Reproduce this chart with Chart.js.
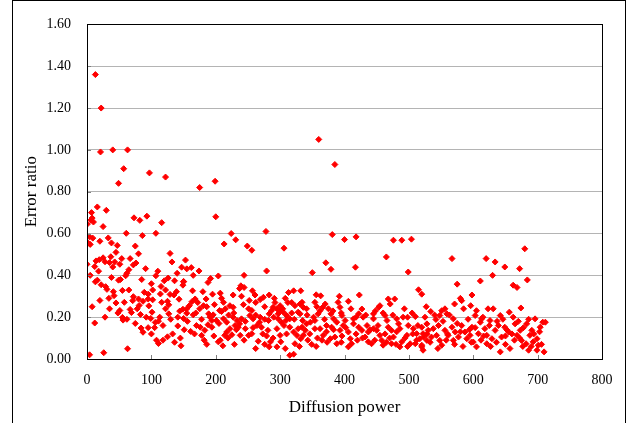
<!DOCTYPE html>
<html>
<head>
<meta charset="utf-8">
<script src="https://cdn.jsdelivr.net/npm/chart.js@4.4.1/dist/chart.umd.min.js"></script>
<style>
  html, body { margin: 0; padding: 0; background: #ffffff; }
  #wrap { width: 638px; height: 423px; position: relative; }
  canvas { display: block; }
</style>
</head>
<body>
<div id="wrap"><canvas id="c" width="638" height="423"></canvas></div>
<script>
// ---- Data ----
const xAxisTitle = "Diffusion power";
const yAxisTitle = "Error ratio";
const xTickValues = [0, 100, 200, 300, 400, 500, 600, 700, 800];
const yTickValues = [0, 0.2, 0.4, 0.6, 0.8, 1.0, 1.2, 1.4, 1.6];

const diffusionPower = [
  13,22,21,40,63,57,97,122,49,175,
  199,360,385,200,224,231,213,249,256,278,
  306,381,400,418,476,489,504,680,417,465,
  16,30,7,8,6,0.5,10,25,73,82,
  93,116,61,86,107,4,9,2,5,20,
  33,38,47,75,80,45,37,54,67,0,
  14,19,25,28,35,43,51,12,76,72,
  65,91,129,132,153,147,155,38,52,60,
  16,13,22,29,31,49,107,120,126,136,
  150,41,42,55,45,58,72,71,80,89,
  102,115,122,129,135,139,143,95,87,102,
  114,116,125,127,67,69,51,81,96,83,
  101,92,99,113,106,111,122,127,144,149,
  155,141,150,156,56,55,28,12,84,87,
  105,108,111,125,136,141,146,63,26,4,
  151,
  162,192,204,188,244,279,174,165,150,149,
  239,244,237,257,261,274,269,283,291,313,
  321,332,308,331,323,300,304,164,180,195,
  185,207,209,212,227,222,227,163,159,168,
  181,175,169,165,189,196,206,209,201,194,
  188,194,176,170,183,178,161,212,217,227,
  233,230,240,237,235,222,217,214,207,211,
  204,225,238,251,256,246,253,258,251,256,
  268,264,271,269,283,287,289,295,300,297,
  305,310,315,309,302,297,282,281,279,266,
  285,283,295,300,301,295,315,321,328,326,
  332,323,315,321,334,336,331,335,328,155,
  371,379,350,499,356,363,341,354,370,366,
  375,379,362,359,352,354,347,341,334,339,
  336,349,354,362,367,365,378,385,388,390,
  393,383,388,396,401,406,398,393,380,372,
  406,409,406,411,414,414,422,427,423,429,
  422,427,435,437,432,437,442,445,445,453,
  455,463,466,468,478,471,450,455,458,460,
  445,468,473,476,473,481,484,486,489,486,
  497,499,502,491,498,510,515,520,507,512,
  517,523,520,510,
  567,620,634,649,672,630,611,684,575,662,
  668,598,580,582,571,585,596,623,631,656,
  674,605,603,534,525,542,551,556,559,569,
  548,528,520,522,530,538,543,535,528,520,
  522,548,551,556,561,567,572,569,577,582,
  587,590,598,595,600,605,611,613,608,618,
  621,621,626,629,634,642,639,642,644,649,
  655,657,662,665,668,673,675,682,683,688,
  691,693,696,699,701,704,708,712,710,699,
  686,
  172,186,198,215,228,243,262,276,292,318,
  178,191,205,220,246,262,276,290,306,322,
  167,182,197,219,232,244,258,273,289,310,
  186,229,262,276,308,330,240,252,318,312,
  342,357,369,382,395,410,418,433,448,460,
  475,493,505,346,358,372,383,396,402,418,
  428,440,452,463,470,481,494,506,514,343,
  356,373,395,420,447,465,480,498,512,392,
  527,540,546,553,563,575,580,592,603,615,
  625,637,646,652,660,670,678,686,694,703,
  533,545,558,571,584,597,612,627,636,650,
  664,677,690,706,528,560,594,616,650,672,
  5,18,40,62,85,100,110,140,95,65,
  34,20,8,48,62,75,95,118,130,133,
  118,145,100,35,78
];

const errorRatio = [
  1.36,1.20,0.99,1.00,1.00,0.91,0.89,0.87,0.84,0.82,
  0.85,1.05,0.93,0.68,0.60,0.57,0.55,0.54,0.52,0.61,
  0.53,0.595,0.571,0.584,0.568,0.568,0.573,0.527,0.439,0.488,
  0.727,0.711,0.70,0.674,0.664,0.645,0.655,0.633,0.675,0.663,
  0.683,0.652,0.601,0.59,0.601,0.584,0.578,0.554,0.548,0.563,
  0.579,0.555,0.543,0.54,0.503,0.51,0.489,0.48,0.48,0.453,
  0.469,0.475,0.484,0.465,0.461,0.464,0.453,0.442,0.459,0.45,
  0.427,0.432,0.505,0.464,0.473,0.439,0.431,0.39,0.38,0.398,
  0.377,0.369,0.355,0.346,0.333,0.377,0.398,0.374,0.387,0.374,
  0.371,0.322,0.303,0.328,0.268,0.271,0.298,0.279,0.287,0.319,
  0.33,0.347,0.33,0.309,0.306,0.322,0.286,0.287,0.276,0.283,
  0.311,0.271,0.276,0.259,0.237,0.222,0.232,0.256,0.254,0.213,
  0.224,0.2,0.194,0.2,0.175,0.181,0.24,0.216,0.229,0.238,
  0.219,0.2,0.194,0.18,0.186,0.199,0.2,0.172,0.148,0.128,
  0.15,0.09,0.074,0.106,0.08,0.158,0.063,0.049,0.03,0.02,
  0.14,
  0.437,0.385,0.397,0.366,0.40,0.421,0.421,0.40,0.369,0.353,
  0.35,0.342,0.337,0.326,0.306,0.295,0.284,0.306,0.29,0.318,
  0.326,0.326,0.29,0.263,0.255,0.255,0.24,0.326,0.322,0.31,
  0.287,0.315,0.29,0.271,0.306,0.255,0.247,0.274,0.255,0.287,
  0.255,0.24,0.22,0.211,0.216,0.211,0.232,0.227,0.184,0.184,
  0.164,0.152,0.152,0.16,0.137,0.113,0.132,0.192,0.176,0.2,
  0.184,0.16,0.192,0.168,0.152,0.145,0.129,0.113,0.09,0.063,
  0.082,0.116,0.113,0.113,0.121,0.145,0.208,0.192,0.24,0.232,
  0.176,0.16,0.152,0.2,0.216,0.232,0.247,0.24,0.232,0.216,
  0.224,0.208,0.192,0.184,0.176,0.192,0.184,0.137,0.11,0.085,
  0.082,0.058,0.145,0.113,0.082,0.058,0.152,0.129,0.145,0.113,
  0.097,0.073,0.018,0.023,0.271,0.247,0.216,0.184,0.224,0.24,
  0.46,0.429,0.413,0.416,0.307,0.302,0.24,0.271,0.263,0.247,
  0.24,0.216,0.231,0.216,0.2,0.184,0.176,0.168,0.152,0.137,
  0.113,0.07,0.145,0.145,0.113,0.09,0.097,0.105,0.073,0.271,
  0.247,0.192,0.176,0.208,0.184,0.276,0.16,0.137,0.152,0.16,
  0.129,0.097,0.058,0.073,0.168,0.192,0.216,0.239,0.306,0.2,
  0.152,0.137,0.16,0.129,0.105,0.082,0.073,0.192,0.216,0.247,
  0.255,0.208,0.184,0.287,0.287,0.263,0.137,0.113,0.089,0.066,
  0.145,0.152,0.137,0.105,0.073,0.192,0.168,0.145,0.082,0.058,
  0.113,0.16,0.073,0.2,0.2,0.203,0.331,0.31,0.145,0.121,
  0.097,0.105,0.058,0.073,
  0.48,0.48,0.464,0.44,0.432,0.40,0.373,0.378,0.358,0.353,
  0.342,0.306,0.29,0.279,0.263,0.24,0.255,0.24,0.24,0.224,
  0.244,0.231,0.208,0.227,0.2,0.189,0.231,0.24,0.216,0.192,
  0.208,0.168,0.152,0.121,0.137,0.145,0.113,0.105,0.089,0.066,
  0.042,0.089,0.066,0.137,0.113,0.152,0.129,0.089,0.105,0.16,
  0.129,0.097,0.152,0.113,0.081,0.058,0.176,0.192,0.121,0.145,
  0.113,0.073,0.184,0.097,0.137,0.208,0.16,0.034,0.105,0.152,
  0.129,0.05,0.2,0.168,0.113,0.137,0.089,0.073,0.168,0.113,
  0.137,0.082,0.192,0.097,0.066,0.152,0.176,0.176,0.034,0.042,
  0.042,
  0.27,0.25,0.26,0.24,0.22,0.26,0.27,0.25,0.27,0.27,
  0.19,0.20,0.17,0.21,0.18,0.21,0.19,0.20,0.16,0.19,
  0.12,0.09,0.11,0.10,0.14,0.09,0.15,0.12,0.10,0.12,
  0.07,0.07,0.05,0.07,0.05,0.06,0.30,0.28,0.22,0.27,
  0.21,0.25,0.19,0.23,0.22,0.24,0.20,0.21,0.23,0.22,
  0.21,0.24,0.22,0.12,0.10,0.13,0.14,0.11,0.15,0.12,
  0.10,0.14,0.16,0.12,0.10,0.13,0.10,0.12,0.16,0.09,
  0.06,0.08,0.08,0.09,0.09,0.08,0.07,0.06,0.09,0.30,
  0.25,0.21,0.16,0.18,0.21,0.17,0.13,0.19,0.15,0.20,
  0.16,0.18,0.19,0.14,0.12,0.18,0.15,0.19,0.12,0.13,
  0.08,0.05,0.09,0.07,0.06,0.08,0.09,0.06,0.08,0.07,
  0.09,0.06,0.06,0.07,0.12,0.12,0.14,0.11,0.11,0.10,
  0.40,0.42,0.44,0.41,0.38,0.36,0.42,0.41,0.31,0.33,
  0.29,0.28,0.25,0.22,0.19,0.17,0.15,0.16,0.19,0.12,
  0.09,0.10,0.12,0.24,0.24
];

// ---- Build chart ----
const n = Math.min(diffusionPower.length, errorRatio.length);
const points = [];
for (let i = 0; i < n; i++) points.push({ x: diffusionPower[i], y: errorRatio[i] });

const FONT = "'Liberation Serif', 'Times New Roman', serif";

const framePlugin = {
  id: 'frame',
  beforeDraw(chart) {
    const ctx = chart.ctx;
    ctx.save();
    ctx.fillStyle = '#ffffff';
    ctx.fillRect(0, 0, chart.width, chart.height);
    ctx.restore();
  },
  afterDatasetsDraw(chart) {
    const ctx = chart.ctx;
    const a = chart.chartArea;
    const xs = chart.scales.x, ys = chart.scales.y;
    ctx.save();
    ctx.strokeStyle = '#7f7f7f';
    ctx.lineWidth = 1;
    xTickValues.forEach(v => {
      const px = Math.round(xs.getPixelForValue(v)) + 0.5;
      ctx.beginPath(); ctx.moveTo(px, a.bottom); ctx.lineTo(px, a.bottom - 4); ctx.stroke();
    });
    yTickValues.forEach(v => {
      const py = Math.round(ys.getPixelForValue(v)) + 0.5;
      ctx.beginPath(); ctx.moveTo(a.left, py); ctx.lineTo(a.left + 4, py); ctx.stroke();
    });
    ctx.strokeStyle = '#000000';
    ctx.lineWidth = 1;
    ctx.strokeRect(Math.round(a.left) + 0.5, Math.round(a.top) + 0.5,
                   Math.round(a.right - a.left), Math.round(a.bottom - a.top));
    ctx.strokeRect(12.5, 0.5, 613, 423);
    ctx.restore();
  }
};

new Chart(document.getElementById('c'), {
  type: 'scatter',
  data: {
    datasets: [{
      data: points,
      pointStyle: 'rectRot',
      pointRadius: 3,
      pointBorderWidth: 1,
      backgroundColor: '#ff0000',
      borderColor: '#ff0000'
    }]
  },
  options: {
    responsive: false,
    animation: false,
    events: [],
    layout: { padding: { left: 12, top: 21, right: 36, bottom: 0 } },
    plugins: { legend: { display: false }, tooltip: { enabled: false } },
    scales: {
      x: {
        type: 'linear',
        min: 0, max: 800,
        afterFit(scale) { scale.height = 64; },
        afterBuildTicks(scale) { scale.ticks = xTickValues.map(v => ({ value: v })); },
        grid: { display: false, drawTicks: false },
        border: { display: true, color: '#000000', width: 1 },
        ticks: {
          padding: 13,
          color: '#000000',
          font: { family: FONT, size: 14 },
          maxRotation: 0,
          callback: v => String(v)
        },
        title: {
          display: true,
          text: xAxisTitle,
          color: '#000000',
          font: { family: FONT, size: 17 },
          padding: { top: 0, bottom: 5 }
        }
      },
      y: {
        type: 'linear',
        min: 0, max: 1.6,
        afterFit(scale) { scale.width = 75; },
        afterBuildTicks(scale) { scale.ticks = yTickValues.map(v => ({ value: v })); },
        grid: { color: '#b4b4b4', lineWidth: 1, drawTicks: false },
        border: { display: true, color: '#000000', width: 1 },
        ticks: {
          padding: 16,
          color: '#000000',
          font: { family: FONT, size: 14 },
          callback: v => Number(v).toFixed(2)
        },
        title: {
          display: true,
          text: yAxisTitle,
          color: '#000000',
          font: { family: FONT, size: 17 },
          padding: { top: 9, bottom: 0 }
        }
      }
    }
  },
  plugins: [framePlugin]
});
</script>
</body>
</html>
